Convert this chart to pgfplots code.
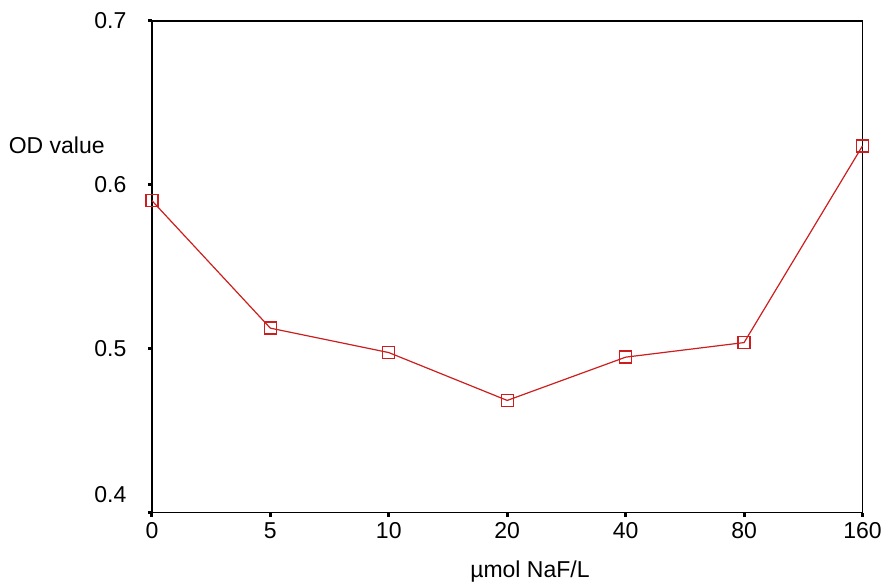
\documentclass[border=0pt]{standalone}
\usepackage{fontspec}
\setmainfont{Liberation Sans}
\usepackage{pgfplots}
\pgfplotsset{compat=1.18}
\definecolor{odred}{RGB}{204,30,30}

\begin{document}
\begin{tikzpicture}
\begin{axis}[
  at={(152bp,71bp)}, anchor=south west,
  scale only axis,
  width=711bp, height=492bp,
  xmin=0, xmax=6,
  ymin=0.4, ymax=0.7,
  xtick={0,1,2,3,4,5,6},
  xticklabels={0,5,10,20,40,80,160},
  ytick={0.5,0.6,0.7},
  extra y ticks={0.4},
  extra y tick style={yticklabel style={yshift=18bp}},
  yticklabel style={/pgf/number format/fixed, /pgf/number format/precision=1,
    /pgf/number format/fixed zerofill},
  /pgf/number format/assume math mode=true,
  tick align=outside,
  xtick pos=bottom, ytick pos=left,
  major tick length=4bp,
  tick style={line width=3bp, black},
  axis line style={line width=1.3bp},
  tick label style={font=\fontsize{23bp}{27bp}\selectfont},
  yticklabel style={xshift=-18bp},
  xticklabel style={yshift=-2bp},
  label style={font=\fontsize{23bp}{27bp}\selectfont},
  xlabel={µmol NaF/L},
  xlabel style={at={(axis description cs:0.532,-0.12)}, anchor=center},
  ylabel={OD value},
  ylabel style={at={(axis description cs:-0.134,0.748)}, anchor=center, rotate=-90},
  clip=false,
]
\addplot[color=odred, line width=1.2bp, mark=square, mark size=6bp,
  mark options={solid, draw=odred, line width=1.4bp}] coordinates {
  (0,0.5904) (1,0.5126) (2,0.4977) (3,0.4685) (4,0.4949) (5,0.5038) (6,0.6238)
};
\end{axis}
\path[use as bounding box] (0,0) rectangle (885bp,584bp);
\end{tikzpicture}
\end{document}
